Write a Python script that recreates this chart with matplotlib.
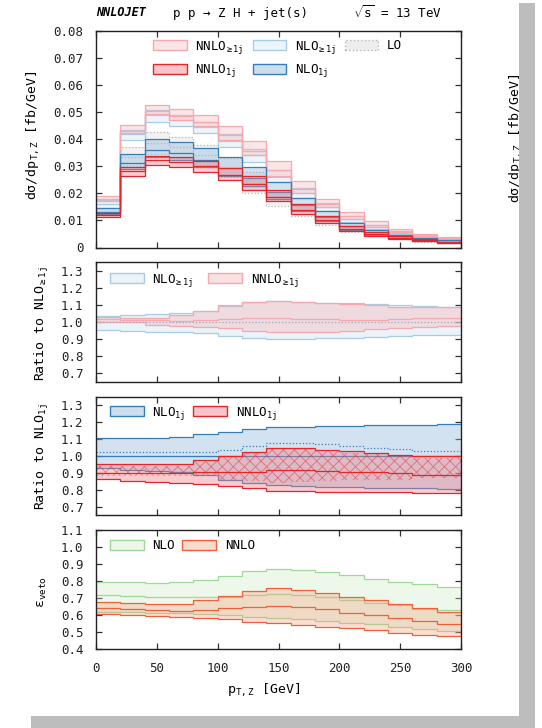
import numpy as np
import matplotlib
matplotlib.use('Agg')
import matplotlib.pyplot as plt
from matplotlib.patches import Patch, Rectangle
from matplotlib.lines import Line2D
from matplotlib.colors import to_rgba

plt.rcParams['font.family'] = ['DejaVu Sans Mono', 'DejaVu Sans']
plt.rcParams['mathtext.fontset'] = 'custom'
plt.rcParams['mathtext.rm'] = 'DejaVu Sans Mono'
plt.rcParams['mathtext.it'] = 'DejaVu Sans Mono:italic'
plt.rcParams['mathtext.bf'] = 'DejaVu Sans Mono:bold'
plt.rcParams['hatch.linewidth'] = 0.6

# ---------------- data ----------------
bin_edges = [0, 20, 40, 60, 80, 100, 120, 140, 160, 180, 200, 220, 240, 260, 280, 300]

# main panel: d sigma / d pT,Z [fb/GeV]
lo_c  = [0.0145, 0.0335, 0.0385, 0.0370, 0.0340, 0.0295, 0.0240, 0.0180, 0.0136, 0.0098, 0.0068, 0.0049, 0.0036, 0.0026, 0.0020]
lo_lo = [0.0130, 0.0300, 0.0345, 0.0330, 0.0305, 0.0260, 0.0202, 0.0153, 0.0115, 0.0083, 0.0058, 0.0042, 0.0030, 0.0022, 0.0017]
lo_hi = [0.0160, 0.0370, 0.0425, 0.0410, 0.0380, 0.0330, 0.0280, 0.0210, 0.0160, 0.0115, 0.0080, 0.0058, 0.0042, 0.0031, 0.0023]

nlo_ge_c  = [0.0170, 0.0420, 0.0490, 0.0470, 0.0445, 0.0395, 0.0340, 0.0262, 0.0200, 0.0148, 0.0104, 0.0074, 0.0054, 0.0040, 0.0030]
nlo_ge_lo = [0.0160, 0.0398, 0.0465, 0.0448, 0.0422, 0.0372, 0.0316, 0.0242, 0.0184, 0.0136, 0.0095, 0.0067, 0.0049, 0.0036, 0.0027]
nlo_ge_hi = [0.0176, 0.0435, 0.0508, 0.0488, 0.0465, 0.0418, 0.0365, 0.0285, 0.0220, 0.0163, 0.0115, 0.0082, 0.0060, 0.0045, 0.0033]

nnlo_ge_c  = [0.0178, 0.0432, 0.0505, 0.0485, 0.0462, 0.0415, 0.0358, 0.0285, 0.0218, 0.0162, 0.0116, 0.0084, 0.0061, 0.0045, 0.0034]
nnlo_ge_lo = [0.0173, 0.0422, 0.0493, 0.0472, 0.0448, 0.0398, 0.0340, 0.0266, 0.0202, 0.0150, 0.0107, 0.0077, 0.0056, 0.0041, 0.0031]
nnlo_ge_hi = [0.0190, 0.0452, 0.0525, 0.0510, 0.0490, 0.0450, 0.0395, 0.0320, 0.0246, 0.0181, 0.0131, 0.0097, 0.0069, 0.0051, 0.0038]

nlo_1j_c  = [0.0133, 0.0312, 0.0360, 0.0350, 0.0325, 0.0292, 0.0256, 0.0206, 0.0156, 0.0114, 0.0078, 0.0056, 0.0041, 0.0030, 0.0022]
nlo_1j_lo = [0.0124, 0.0290, 0.0334, 0.0323, 0.0298, 0.0265, 0.0228, 0.0180, 0.0135, 0.0097, 0.0066, 0.0047, 0.0034, 0.0025, 0.0018]
nlo_1j_hi = [0.0147, 0.0344, 0.0400, 0.0389, 0.0366, 0.0334, 0.0297, 0.0241, 0.0183, 0.0134, 0.0092, 0.0066, 0.0048, 0.0035, 0.0026]

nnlo_1j_c  = [0.0120, 0.0282, 0.0322, 0.0315, 0.0300, 0.0268, 0.0235, 0.0188, 0.0140, 0.0102, 0.0070, 0.0050, 0.0036, 0.0027, 0.0019]
nnlo_1j_lo = [0.0113, 0.0265, 0.0305, 0.0296, 0.0278, 0.0248, 0.0212, 0.0170, 0.0125, 0.0092, 0.0062, 0.0044, 0.0032, 0.0023, 0.0016]
nnlo_1j_hi = [0.0127, 0.0296, 0.0338, 0.0333, 0.0320, 0.0295, 0.0265, 0.0213, 0.0160, 0.0117, 0.0080, 0.0059, 0.0042, 0.0031, 0.0022]

# ratio to NLO>=1j
r2_nlo_c  = [1.000] * 15
r2_nlo_lo = [0.953, 0.947, 0.943, 0.940, 0.934, 0.920, 0.908, 0.901, 0.901, 0.905, 0.908, 0.914, 0.918, 0.924, 0.924]
r2_nlo_hi = [1.035, 1.041, 1.045, 1.051, 1.064, 1.095, 1.115, 1.122, 1.118, 1.113, 1.109, 1.103, 1.099, 1.095, 1.089]
r2_nnlo_c  = [1.017, 1.012, 1.012, 1.006, 1.012, 1.017, 1.021, 1.021, 1.017, 1.016, 1.012, 1.012, 1.016, 1.021, 1.025]
r2_nnlo_lo = [1.001, 1.001, 0.982, 0.978, 0.973, 0.963, 0.947, 0.940, 0.943, 0.943, 0.947, 0.959, 0.963, 0.973, 0.978]
r2_nnlo_hi = [1.031, 1.021, 1.025, 1.041, 1.064, 1.099, 1.118, 1.122, 1.115, 1.109, 1.103, 1.099, 1.089, 1.089, 1.086]

# ratio to NLO1j
r3_nlo_c  = [1.000] * 15
r3_nlo_lo = [0.927, 0.917, 0.911, 0.903, 0.887, 0.858, 0.838, 0.828, 0.822, 0.818, 0.814, 0.812, 0.812, 0.808, 0.804]
r3_nlo_hi = [1.105, 1.105, 1.109, 1.115, 1.129, 1.144, 1.160, 1.170, 1.174, 1.178, 1.180, 1.182, 1.184, 1.186, 1.188]
r3_nlo_ge = [1.026, 1.026, 1.026, 1.026, 1.026, 1.035, 1.060, 1.080, 1.080, 1.070, 1.060, 1.050, 1.040, 1.030, 1.030]
r3_nnlo_c  = [0.901, 0.901, 0.901, 0.901, 0.903, 0.903, 0.907, 0.917, 0.917, 0.911, 0.907, 0.903, 0.897, 0.887, 0.887]
r3_nnlo_lo = [0.862, 0.852, 0.844, 0.838, 0.832, 0.822, 0.808, 0.792, 0.792, 0.788, 0.785, 0.785, 0.785, 0.779, 0.779]
r3_nnlo_hi = [0.951, 0.951, 0.951, 0.951, 0.976, 1.000, 1.026, 1.049, 1.046, 1.036, 1.030, 1.016, 1.006, 1.000, 1.000]
r3_nnlo_ge_lo = [0.880, 0.880, 0.880, 0.880, 0.880, 0.860, 0.850, 0.840, 0.845, 0.850, 0.855, 0.860, 0.860, 0.870, 0.870]
r3_nnlo_ge_hi = [0.940, 0.940, 0.940, 0.940, 0.970, 1.000, 1.020, 1.040, 1.040, 1.030, 1.020, 1.010, 1.000, 0.990, 0.990]

# veto efficiency
v_nlo_c  = [0.718, 0.712, 0.708, 0.708, 0.708, 0.708, 0.718, 0.724, 0.718, 0.705, 0.688, 0.673, 0.659, 0.634, 0.629]
v_nlo_lo = [0.620, 0.615, 0.612, 0.610, 0.605, 0.600, 0.590, 0.580, 0.575, 0.565, 0.555, 0.545, 0.530, 0.515, 0.505]
v_nlo_hi = [0.796, 0.796, 0.790, 0.796, 0.806, 0.829, 0.859, 0.871, 0.865, 0.851, 0.835, 0.812, 0.796, 0.781, 0.763]
v_nnlo_c  = [0.640, 0.634, 0.629, 0.625, 0.629, 0.640, 0.645, 0.655, 0.645, 0.634, 0.614, 0.600, 0.581, 0.565, 0.547]
v_nnlo_lo = [0.606, 0.600, 0.594, 0.590, 0.584, 0.575, 0.561, 0.551, 0.541, 0.531, 0.522, 0.512, 0.496, 0.482, 0.476]
v_nnlo_hi = [0.678, 0.672, 0.663, 0.663, 0.688, 0.712, 0.743, 0.761, 0.747, 0.731, 0.704, 0.688, 0.663, 0.639, 0.619]

x_ticks = [0, 50, 100, 150, 200, 250, 300]
main_yticks = [0, 0.01, 0.02, 0.03, 0.04, 0.05, 0.06, 0.07, 0.08]
main_ylabels = ['0', '0.01', '0.02', '0.03', '0.04', '0.05', '0.06', '0.07', '0.08']
ratio_yticks = [0.7, 0.8, 0.9, 1.0, 1.1, 1.2, 1.3]
veto_yticks = [0.4, 0.5, 0.6, 0.7, 0.8, 0.9, 1.0, 1.1]

lab_nnlo_ge = r'NNLO$_{\mathrm{\geq1j}}$'
lab_nlo_ge = r'NLO$_{\mathrm{\geq1j}}$'
lab_nnlo_1j = r'NNLO$_{\mathrm{1j}}$'
lab_nlo_1j = r'NLO$_{\mathrm{1j}}$'

# ---------------- colours ----------------
C_NNLO_GE = ('#f7a8ae', '#f4b5b9')   # edge, fill
C_NLO_GE = ('#a9cce6', '#cfe3f1')
C_LO = ('#b8b8b8', '#dcdcdc')
C_NNLO_1J = ('#e3262c', '#ee8088')
C_NLO_1J = ('#3a7db6', '#8fb8da')
C_NLO_V = ('#9fd89a', '#cdebc8')
C_NNLO_V = ('#f0603a', '#f5a27f')

W, H = 542, 728
fig = plt.figure(figsize=(W / 100, H / 100), dpi=100)
fig.patch.set_facecolor('white')


def add_ax(top, bottom):
    return fig.add_axes([96 / W, 1 - bottom / H, 365 / W, (bottom - top) / H])


def style(ax, ylim, yticks, ylabels, xlabels=False):
    ax.set_xlim(0, 300)
    ax.set_ylim(*ylim)
    ax.set_xticks(x_ticks)
    ax.set_yticks(yticks)
    ax.set_yticklabels(ylabels)
    ax.tick_params(direction='in', top=True, right=True, length=4.5, width=0.9,
                   color='#333333', labelsize=9, labelcolor='#222222')
    ax.tick_params(axis='y', pad=9)
    ax.tick_params(axis='x', pad=9, labelbottom=xlabels)
    for s in ax.spines.values():
        s.set_linewidth(1.0)
        s.set_color('#222222')
        s.set_zorder(10)


def band(ax, lo, hi, c, col, alpha, lw=0.9, ls='-', z=2, clw=None):
    edge, fill = col
    ax.stairs(hi, bin_edges, baseline=lo, fill=True, facecolor=fill, edgecolor='none',
              linewidth=0, alpha=alpha, zorder=z)
    ax.stairs(hi, bin_edges, baseline=None, color=edge, lw=lw, ls=ls, zorder=z + 0.1)
    ax.stairs(lo, bin_edges, baseline=None, color=edge, lw=lw, ls=ls, zorder=z + 0.1)
    if c is not None:
        ax.stairs(c, bin_edges, baseline=None, color=edge, lw=clw or lw, ls=ls, zorder=z + 0.1)


def bh(col, alpha, ls='-'):
    edge, fill = col
    return Patch(facecolor=to_rgba(fill, alpha), edgecolor=edge, linewidth=1.0, linestyle=ls)


leg_kw = dict(frameon=False, fontsize=9, handlelength=2.7, handleheight=0.85,
              handletextpad=0.7, borderpad=0, borderaxespad=0)

# ---------------- panel 1 ----------------
ax1 = add_ax(31, 247.5)
band(ax1, lo_lo, lo_hi, lo_c, C_LO, 0.35, ls=':', z=1)
band(ax1, nlo_ge_lo, nlo_ge_hi, nlo_ge_c, C_NLO_GE, 0.35, z=2)
band(ax1, nnlo_ge_lo, nnlo_ge_hi, nnlo_ge_c, C_NNLO_GE, 0.35, z=3)
band(ax1, nlo_1j_lo, nlo_1j_hi, nlo_1j_c, C_NLO_1J, 0.4, z=4)
band(ax1, nnlo_1j_lo, nnlo_1j_hi, nnlo_1j_c, C_NNLO_1J, 0.4, z=5)
style(ax1, (0, 0.08), main_yticks, main_ylabels)
h = [bh(C_NNLO_GE, 0.35), bh(C_NNLO_1J, 0.45), bh(C_NLO_GE, 0.35), bh(C_NLO_1J, 0.45), bh(C_LO, 0.5, ':')]
l = [lab_nnlo_ge, lab_nnlo_1j, lab_nlo_ge, lab_nlo_1j, 'LO']
ax1.legend(h, l, ncol=3, loc='upper left', bbox_to_anchor=(0.156, 0.965),
           columnspacing=0.7, labelspacing=0.55, **leg_kw)

# ---------------- panel 2 ----------------
ax2 = add_ax(262, 382)
band(ax2, r2_nlo_lo, r2_nlo_hi, None, C_NLO_GE, 0.4, z=2)
ax2.stairs(r2_nlo_c, bin_edges, baseline=None, color='#9aaab8', lw=0.9, ls=':', zorder=4)
band(ax2, r2_nnlo_lo, r2_nnlo_hi, r2_nnlo_c, C_NNLO_GE, 0.4, z=3)
style(ax2, (0.65, 1.35), ratio_yticks, ['%.1f' % v for v in ratio_yticks])
ax2.legend([bh(C_NLO_GE, 0.4), bh(C_NNLO_GE, 0.4)], [lab_nlo_ge, lab_nnlo_ge], ncol=2,
           loc='upper left', bbox_to_anchor=(0.038, 0.92), columnspacing=1.2, **leg_kw)

# ---------------- panel 3 ----------------
ax3 = add_ax(397, 515)
band(ax3, r3_nlo_lo, r3_nlo_hi, r3_nlo_c, C_NLO_1J, 0.4, z=2)
ax3.stairs(r3_nlo_ge, bin_edges, baseline=None, color=C_NLO_1J[0], lw=0.9, ls=':', zorder=3)
band(ax3, r3_nnlo_lo, r3_nnlo_hi, r3_nnlo_c, C_NNLO_1J, 0.4, z=4)
ax3.stairs(r3_nnlo_ge_hi, bin_edges, baseline=r3_nnlo_ge_lo, fill=True, facecolor='none',
           edgecolor='#e3262c', hatch='xxx', linewidth=0, alpha=0.5, zorder=5)
style(ax3, (0.65, 1.35), ratio_yticks, ['%.1f' % v for v in ratio_yticks])
ax3.legend([bh(C_NLO_1J, 0.45), bh(C_NNLO_1J, 0.45)], [lab_nlo_1j, lab_nnlo_1j], ncol=2,
           loc='upper left', bbox_to_anchor=(0.038, 0.935), columnspacing=0.6, **leg_kw)

# ---------------- panel 4 ----------------
ax4 = add_ax(530, 649)
band(ax4, v_nlo_lo, v_nlo_hi, v_nlo_c, C_NLO_V, 0.35, z=2)
band(ax4, v_nnlo_lo, v_nnlo_hi, v_nnlo_c, C_NNLO_V, 0.35, z=3)
style(ax4, (0.4, 1.1), veto_yticks, ['%.1f' % v for v in veto_yticks], xlabels=True)
ax4.legend([bh(C_NLO_V, 0.35), bh(C_NNLO_V, 0.4)], ['NLO', 'NNLO'], ncol=2,
           loc='upper left', bbox_to_anchor=(0.038, 0.925), columnspacing=0.6, **leg_kw)

# ---------------- texts ----------------
fig.text(96 / W, 1 - 13 / H, 'NNLOJET', weight='bold', style='italic', fontsize=8.5,
         ha='left', va='center')
fig.text(241 / W, 1 - 13 / H, 'p p → Z H + jet(s)', fontsize=9, ha='center', va='center')
fig.text(442 / W, 1 - 13 / H, r'$\sqrt{\mathrm{s}}$ = 13 TeV', fontsize=9, ha='right', va='center')

ylab_main = r'dσ/dp$_{\mathrm{T,Z}}$ [fb/GeV]'
fig.text(33 / W, 1 - 135 / H, ylab_main, rotation=90, fontsize=9.5, ha='center', va='center')
fig.text(42 / W, 1 - 324 / H, r'Ratio to NLO$_{\mathrm{\geq1j}}$', rotation=90, fontsize=9.5,
         ha='center', va='center')
fig.text(42 / W, 1 - 456 / H, r'Ratio to NLO$_{\mathrm{1j}}$', rotation=90, fontsize=9.5,
         ha='center', va='center')
fig.text(42 / W, 1 - 592 / H, r'ε$_{\mathrm{veto}}$', rotation=90, fontsize=9.5,
         ha='center', va='center')
fig.text(264 / W, 1 - 690 / H, r'p$_{\mathrm{T,Z}}$ [GeV]', fontsize=9.5, ha='center', va='center')

# neighbouring page fragment and page shadow
fig.text(516 / W, 1 - 138 / H, ylab_main, rotation=90, fontsize=9.5, ha='center', va='center',
         zorder=1)
fig.patches.append(Rectangle((519 / W, 0), 16 / W, (H - 3) / H, transform=fig.transFigure,
                             facecolor='#bdbdbd', edgecolor='none', zorder=20))
fig.patches.append(Rectangle((31 / W, 0), (535 - 31) / W, 12 / H, transform=fig.transFigure,
                             facecolor='#bdbdbd', edgecolor='none', zorder=20))

fig.savefig('out.png', dpi=100)
